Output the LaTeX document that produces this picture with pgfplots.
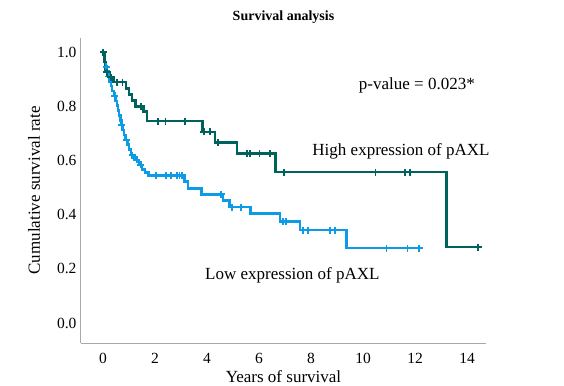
\documentclass[border=0pt]{standalone}
\usepackage{fontspec}
\setmainfont{Liberation Serif}
\usepackage{pgfplots}
\pgfplotsset{compat=1.18}
\definecolor{hiC}{RGB}{0,98,92}
\definecolor{loC}{RGB}{12,155,230}
\definecolor{axC}{RGB}{170,170,170}
\begin{document}
\begin{tikzpicture}
\path[use as bounding box] (-81bp,-43bp) rectangle (483bp,343bp);
\begin{axis}[
  at={(0,0)}, anchor=south west,
  scale only axis, width=405bp, height=305bp,
  xmin=-0.85, xmax=14.73, ymin=-0.074, ymax=1.052,
  axis lines*=left,
  axis line style={axC, line width=1bp, -},
  xtick={0,2,...,14}, ytick={0,0.2,...,1.0},
  yticklabel style={/pgf/number format/fixed,/pgf/number format/fixed zerofill,/pgf/number format/precision=1},
  /pgf/number format/assume math mode=true,
  major tick length=0pt,
  tick label style={font=\fontsize{15.5bp}{18bp}\selectfont},
  xticklabel style={anchor=base, yshift=-20.5bp},
  yticklabel style={xshift=-1bp},
  xlabel={Years of survival},
  ylabel={Cumulative survival rate},
  label style={font=\fontsize{17bp}{19bp}\selectfont},
  xlabel style={at={(axis description cs:0.5,0)}, anchor=base, yshift=-39bp},
  ylabel style={at={(axis description cs:0,0.5)}, anchor=base, yshift=41bp},
  title={\textbf{Survival analysis}},
  title style={font=\fontsize{14bp}{16bp}\selectfont, yshift=5bp},
  clip=false,
]
% Low expression
\addplot[loC, line width=2.5bp, const plot, no marks] coordinates {
(0,1.0) (0.03,0.982) (0.06,0.964) (0.1,0.946) (0.15,0.928) (0.2,0.91)
(0.25,0.892) (0.3,0.874) (0.35,0.856) (0.42,0.838) (0.48,0.82) (0.53,0.802)
(0.57,0.784) (0.62,0.766) (0.66,0.748) (0.7,0.73) (0.75,0.712) (0.8,0.694)
(0.87,0.676) (0.93,0.658) (1.0,0.64) (1.08,0.62) (1.2,0.602) (1.38,0.584)
(1.5,0.566) (1.62,0.555) (1.75,0.545) (3.14,0.522) (3.26,0.497) (3.78,0.475)
(4.61,0.452) (4.87,0.428) (5.68,0.405) (6.80,0.374) (7.57,0.343) (9.36,0.276)
(12.25,0.276)
};
\addplot[loC, only marks, mark=+, mark size=3.5bp, line width=1.8bp] coordinates {
(0.12,0.946) (0.22,0.91) (0.45,0.838) (0.72,0.73) (0.9,0.676) (1.12,0.62)
(1.3,0.602) (1.45,0.584) (2.05,0.545) (2.43,0.545) (2.62,0.545) (2.84,0.545)
(2.94,0.545) (3.05,0.545) (4.55,0.475) (4.95,0.428) (5.32,0.428) (6.92,0.374)
(7.05,0.374) (7.69,0.343) (7.88,0.343) (8.72,0.343) (8.91,0.343) (10.9,0.276)
(11.71,0.276) (12.16,0.276)
};
% High expression
\addplot[hiC, line width=2.5bp, const plot, no marks] coordinates {
(0,1.0) (0.05,0.963) (0.1,0.926) (0.25,0.907) (0.4,0.889) (0.88,0.865)
(1.0,0.843) (1.12,0.822) (1.25,0.80) (1.55,0.78) (1.68,0.745) (3.82,0.705)
(4.3,0.667) (5.15,0.625) (6.63,0.557) (13.22,0.28) (14.43,0.28)
};
\addplot[hiC, only marks, mark=+, mark size=3.5bp, line width=1.8bp] coordinates {
(0,1.0) (0.15,0.926) (0.3,0.907) (0.55,0.889) (0.75,0.889) (1.45,0.80)
(2.1,0.745) (2.4,0.745) (3.14,0.745) (3.87,0.705) (4.1,0.705) (4.42,0.667)
(5.55,0.625) (5.65,0.625) (6.02,0.625) (6.41,0.625) (6.96,0.557) (10.48,0.557)
(11.61,0.557) (11.8,0.557) (14.43,0.28)
};
\node[font=\fontsize{17bp}{19bp}\selectfont] at (axis cs:12.07,0.876) {p-value = 0.023*};
\node[font=\fontsize{17bp}{19bp}\selectfont] at (axis cs:11.46,0.632) {High expression of pAXL};
\node[font=\fontsize{17bp}{19bp}\selectfont] at (axis cs:7.28,0.175) {Low expression of pAXL};
\end{axis}
\end{tikzpicture}
\end{document}
